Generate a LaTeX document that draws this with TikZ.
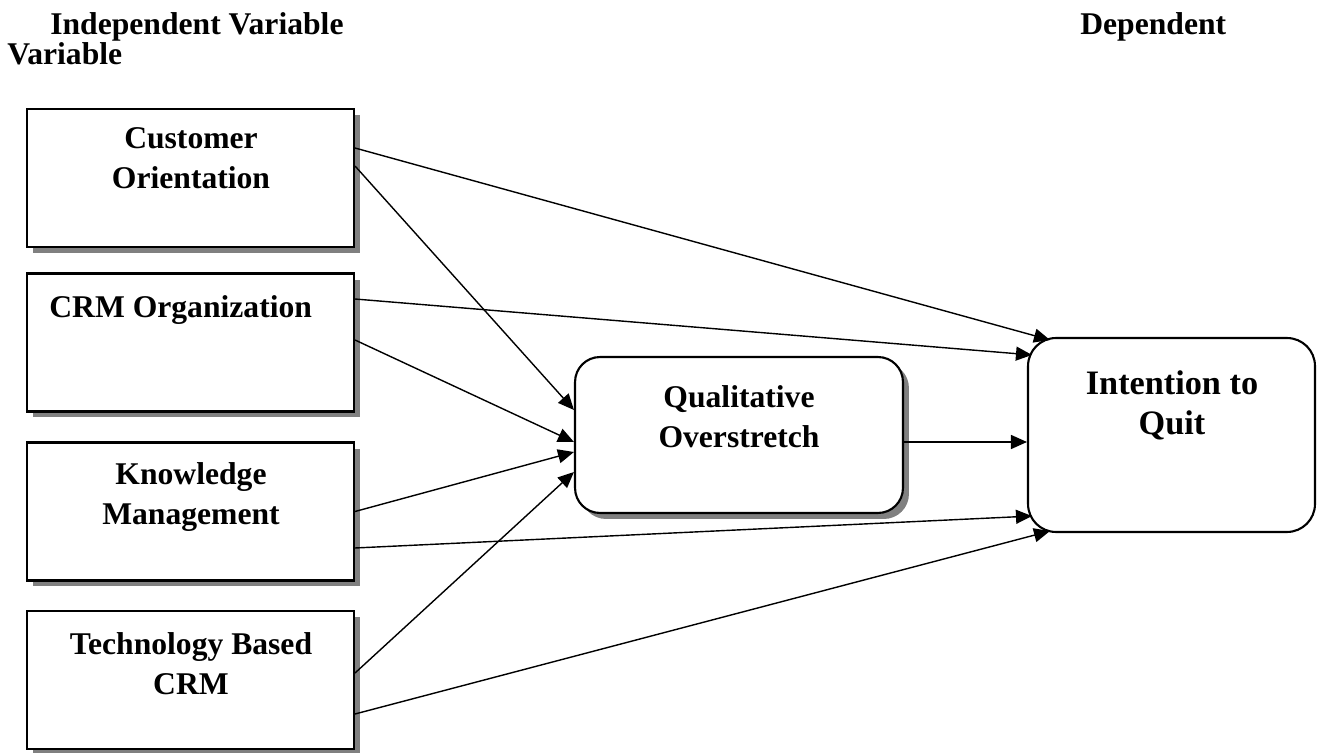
\documentclass[tikz,border=0pt]{standalone}
\usepackage{fontspec}
\setmainfont{Liberation Serif}
\usetikzlibrary{arrows.meta,shadows}

\begin{document}
\begin{tikzpicture}[x=0.02cm,y=-0.02cm,font=\bfseries\fontsize{18}{23}\selectfont]
		\tikzstyle{var}=[draw=black,line width=1.2pt,fill=white,minimum width=6.54cm,minimum height=2.76cm,inner sep=0,
			drop shadow={shadow xshift=0.12cm,shadow yshift=-0.12cm,fill=black!50,opacity=1}]
		\tikzstyle{mediator}=[var,rounded corners=0.5cm,minimum width=6.56cm,minimum height=3.12cm]
		\tikzstyle{outcome}=[draw=black,line width=1.2pt,fill=white,rounded corners=0.56cm,minimum width=5.74cm,minimum height=3.88cm,inner sep=0]
		\tikzstyle{caption}=[inner sep=0,align=center,anchor=north]
		\tikzstyle{link}=[-{Triangle[length=0.32cm,width=0.28cm]},line width=0.8pt]
		\useasboundingbox (0,0) rectangle (1319,753);

		% headings
		\node[inner sep=0,anchor=base west] (indep) at (50,35) {Independent Variable};
		\node[inner sep=0,anchor=base west] (indep2) at (7,65) {Variable};
		\node[inner sep=0,anchor=base west] (dep) at (1080,35) {Dependent};

		% independent variables
		\node[var] (co) at (190.5,178) {};
		\node[var] (crm) at (190.5,342.5) {};
		\node[var] (km) at (190.5,511.5) {};
		\node[var] (tb) at (190.5,680) {};
		\node[caption] (co-t) at (191,127) {Customer\\Orientation};
		\node[caption,anchor=north west] (crm-t) at (49,295) {CRM Organization};
		\node[caption] (km-t) at (191,462) {Knowledge\\Management};
		\node[caption] (tb-t) at (191,632) {Technology Based\\CRM};

		% mediator and dependent
		\node[mediator] (qo) at (739,435) {};
		\node[caption] (qo-t) at (739,385) {Qualitative\\Overstretch};
		\node[outcome] (iq) at (1171.5,435) {};
		\node[caption,font=\bfseries\fontsize{19.5}{23}\selectfont] (iq-t) at (1172,370) {Intention to\\Quit};

		% paths to the mediator
		\draw[link] ([yshift=0.24cm]co.east) -- ([yshift=0.5cm]qo.west);
		\draw[link] ([yshift=0.05cm]crm.east) -- ([yshift=-0.14cm]qo.west);
		\draw[link] (km.east) -- ([yshift=-0.34cm]qo.west);
		\draw[link] ([yshift=0.14cm]tb.east) -- ([yshift=-0.74cm]qo.west);

		% direct paths
		\draw[link] ([yshift=0.6cm]co.east) -- ([xshift=0.46cm,yshift=-0.06cm]iq.north west);
		\draw[link] ([yshift=0.87cm]crm.east) -- ([xshift=0.1cm,yshift=-0.36cm]iq.north west);
		\draw[link] ([yshift=-0.14cm]qo.east) -- ([yshift=-0.14cm]iq.west);
		\draw[link] ([yshift=-0.73cm]km.east) -- ([xshift=0.1cm,yshift=0.34cm]iq.south west);
		\draw[link] ([yshift=-0.68cm]tb.east) -- ([xshift=0.46cm,yshift=0.04cm]iq.south west);
	\end{tikzpicture}
\end{document}
